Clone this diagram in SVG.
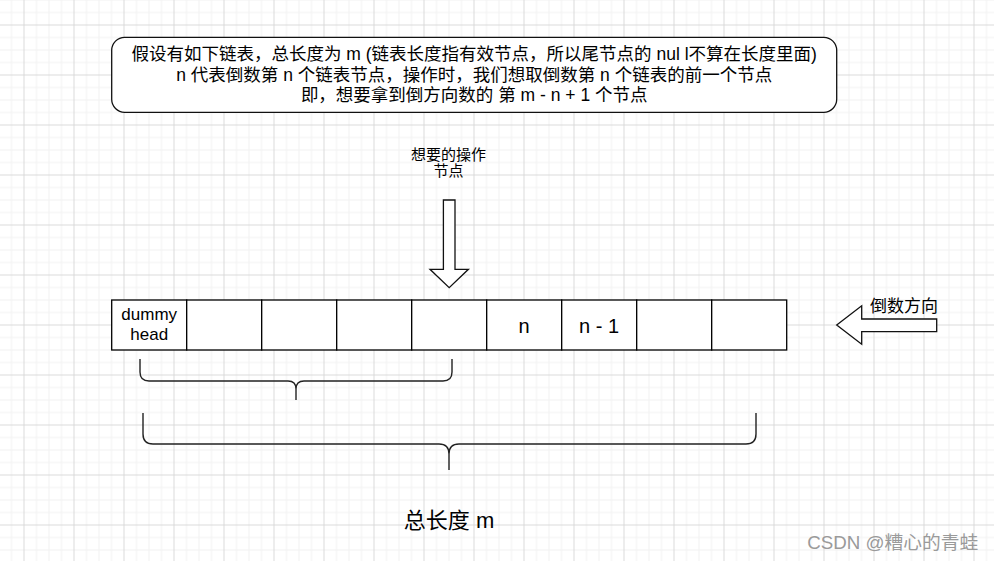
<svg xmlns="http://www.w3.org/2000/svg" width="994" height="561" viewBox="0 0 994 561">
  <defs>
    <pattern id="grid" patternUnits="userSpaceOnUse" x="23.5" y="24.5" width="50" height="50">
      <path d="M13,0V50M25.5,0V50M38,0V50M0,13H50M0,25.5H50M0,38H50" stroke="#f1f1f1" stroke-width="1" fill="none"/>
      <path d="M0.5,0V50M0,0.5H50" stroke="#dadada" stroke-width="1" fill="none"/>
    </pattern>
    <style>
      .t { font-family: "Liberation Sans", "Noto Sans CJK SC", sans-serif; fill: #000; }
      .cell { fill: #fff; stroke: #000; stroke-width: 1.3; }
      .shape { fill: #fff; stroke: #111; stroke-width: 1.3; }
      .brace { fill: none; stroke: #222; stroke-width: 1.4; }
    </style>
  </defs>
  <rect width="994" height="561" fill="#fff"/>
  <rect width="994" height="561" fill="url(#grid)"/>

  <g id="desc">
    <rect x="111.7" y="37.3" width="725" height="75" rx="13" class="shape"/>
    <text class="t" font-size="17.5" text-anchor="middle" x="474.2" y="60">假设有如下链表，总长度为 m (链表长度指有效节点，所以尾节点的 nul l不算在长度里面)</text>
    <text class="t" font-size="17.5" text-anchor="middle" x="474.2" y="80.8">n 代表倒数第 n 个链表节点，操作时，我们想取倒数第 n 个链表的前一个节点</text>
    <text class="t" font-size="17.5" text-anchor="middle" x="474.2" y="101.2">即，想要拿到倒方向数的 第 m - n + 1 个节点</text>
  </g>

  <g id="op-label">
    <text class="t" font-size="15" text-anchor="middle" x="448.5" y="160">想要的操作</text>
    <text class="t" font-size="15" text-anchor="middle" x="448.5" y="176">节点</text>
  </g>

  <g id="down-arrow">
    <polygon class="shape" points="443.4,200 455,200 455,269.3 468.4,269.3 449.2,287.7 430,269.3 443.4,269.3"/>
  </g>

  <g id="list">
    <rect class="cell" x="111.7" y="300" width="75" height="50"/>
    <rect class="cell" x="186.7" y="300" width="75" height="50"/>
    <rect class="cell" x="261.7" y="300" width="75" height="50"/>
    <rect class="cell" x="336.7" y="300" width="75" height="50"/>
    <rect class="cell" x="411.7" y="300" width="75" height="50"/>
    <rect class="cell" x="486.7" y="300" width="75" height="50"/>
    <rect class="cell" x="561.7" y="300" width="75" height="50"/>
    <rect class="cell" x="636.7" y="300" width="75" height="50"/>
    <rect class="cell" x="711.7" y="300" width="75" height="50"/>
    <text class="t" font-size="17" text-anchor="middle" x="149.2" y="320">dummy</text>
    <text class="t" font-size="17" text-anchor="middle" x="149.2" y="340">head</text>
    <text class="t" font-size="20" text-anchor="middle" x="524" y="333">n</text>
    <text class="t" font-size="20" text-anchor="middle" x="599" y="333">n - 1</text>
  </g>

  <g id="dir-arrow">
    <polygon class="shape" points="836.7,325 861.7,305.7 861.7,319 936.7,319 936.7,331.7 861.7,331.7 861.7,344.3"/>
    <text class="t" font-size="17" text-anchor="middle" x="904" y="311.5">倒数方向</text>
  </g>

  <g id="connectors">
    <path class="brace" d="M140,359V372Q140,381 149,381H288Q296,381 296,389Q296,381 304,381H443Q452,381 452,372V359M296,389V400"/>
    <path class="brace" d="M143,413V434Q143,444 153,444H439Q449,444 449,454Q449,444 459,444H746Q756,444 756,434V413M449,454V470"/>
  </g>

  <g id="total">
    <text class="t" font-size="22" text-anchor="middle" x="449" y="527.5">总长度 m</text>
  </g>

  <text font-family="'Liberation Sans', 'Noto Sans CJK SC', sans-serif" font-size="18.5" fill="#9a9a9a" x="807.3" y="549" textLength="171" lengthAdjust="spacingAndGlyphs">CSDN @糟心的青蛙</text>
</svg>
